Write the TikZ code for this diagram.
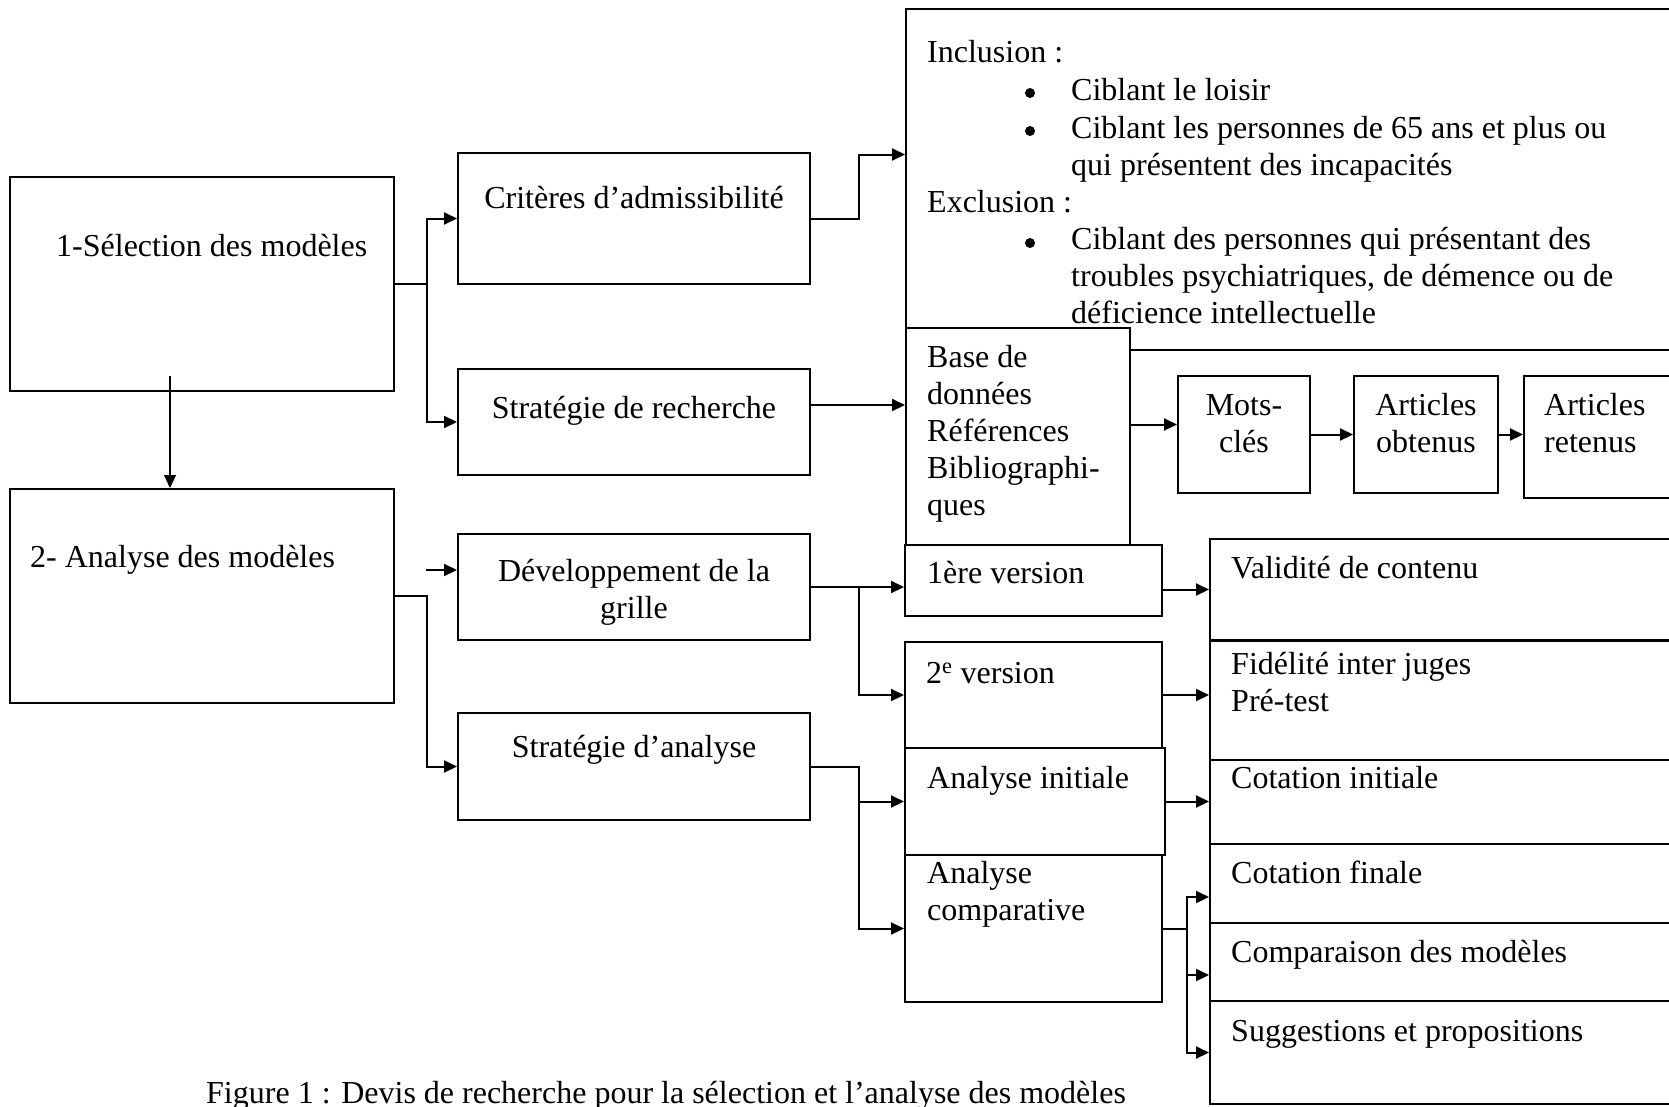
\documentclass[tikz,border=0pt]{standalone}
\usepackage{fontspec}
\setmainfont{Liberation Serif}
\usetikzlibrary{arrows.meta}

\tikzset{
  box/.style={draw, fill=white, line width=2pt, inner sep=0pt},
  dot/.style={circle, fill=black, inner sep=0pt, minimum size=10pt},
  arr/.style={line width=2pt, -{Triangle[length=13pt,width=12pt]}},
}

\begin{document}
\begin{tikzpicture}[x=1pt, y=-1pt, font=\fontsize{32}{37}\selectfont]

      \clip (0,0) rectangle (1669,1106);
      \fill[white] (0,0) rectangle (1669,1106);

      \begin{scope}[every node/.style={box}]
        \node[minimum width=384pt, minimum height=214pt] (sel)  at (202,284)    {};
        \node[minimum width=384pt, minimum height=214pt] (ana)  at (202,596)    {};
        \node[minimum width=352pt, minimum height=131pt] (crit) at (634,218.5)  {};
        \node[minimum width=352pt, minimum height=106pt] (rech) at (634,422)    {};
        \node[minimum width=352pt, minimum height=106pt] (dev)  at (634,587)    {};
        \node[minimum width=352pt, minimum height=107pt] (stra) at (634,766.5)  {};
        \node[minimum width=794pt, minimum height=341pt] (incl) at (1303,179.5) {};
        \node[minimum width=224pt, minimum height=217pt] (base) at (1018,436.5) {};
        \node[minimum width=132pt, minimum height=117pt] (mots) at (1244,434.5) {};
        \node[minimum width=144pt, minimum height=117pt] (obt)  at (1426,434.5) {};
        \node[minimum width=176pt, minimum height=122pt] (ret)  at (1612,437)   {};
        \node[minimum width=257pt, minimum height=71pt]  (v1)   at (1033.5,580.5) {};
        \node[minimum width=257pt, minimum height=106pt] (v2)   at (1033.5,695) {};
        \node[minimum width=260pt, minimum height=107pt] (ini)  at (1035,801.5) {};
        \node[minimum width=257pt, minimum height=147pt] (comp) at (1033.5,928.5) {};
        \node[minimum width=490pt, minimum height=101pt] (val)  at (1455,589.5) {};
        \node[minimum width=490pt, minimum height=119pt] (fid)  at (1455,700.5) {};
        \node[minimum width=490pt, minimum height=84pt]  (cini) at (1455,802)   {};
        \node[minimum width=490pt, minimum height=79pt]  (cfin) at (1455,883.5) {};
        \node[minimum width=490pt, minimum height=78pt]  (cmp)  at (1455,962)   {};
        \node[minimum width=490pt, minimum height=103pt] (sug)  at (1455,1052.5) {};
      \end{scope}

      % texts: a node with several lines sits on its last line
      \begin{scope}[every node/.style={inner sep=0pt, anchor=base west, align=left}]
        \node (selt)  at (56,256)  {1-Sélection des modèles};
        \node (anat)  at (30,567)  {2- Analyse des modèles};
        \node[anchor=base, align=center] (critt) at (634,208) {Critères d’admissibilité};
        \node[anchor=base, align=center] (recht) at (634,418) {Stratégie de recherche};
        \node[anchor=base, align=center] (devt)  at (634,618) {Développement de la\\grille};
        \node[anchor=base, align=center] (strat) at (634,757) {Stratégie d’analyse};

        \node (inclt) at (927,62)   {Inclusion :};
        \node (i1)    at (1071,100) {Ciblant le loisir};
        \node (i2)    at (1071,175) {Ciblant les personnes de 65 ans et plus ou\\qui présentent des incapacités};
        \node (exclt) at (927,212)  {Exclusion :};
        \node (e1)    at (1071,323) {Ciblant des personnes qui présentant des\\troubles psychiatriques, de démence ou de\\déficience intellectuelle};

        \node (baset) at (927,515)  {Base de\\données\\Références\\Bibliographi-\\ques};
        \node[anchor=base, align=center] (motst) at (1244,452) {Mots-\\clés};
        \node[anchor=base, align=center] (obtt)  at (1426,452) {Articles\\obtenus};
        \node (rett)  at (1544,452) {Articles\\retenus};

        \node (v1t)   at (927,583)  {1ère version};
        \node (v2t)   at (926,683)  {2\textsuperscript{e} version};
        \node (init)  at (927,788)  {Analyse initiale};
        \node (compt) at (927,920)  {Analyse\\comparative};

        \node (valt)  at (1231,578)  {Validité de contenu};
        \node (fidt)  at (1231,711)  {Fidélité inter juges\\Pré-test};
        \node (cinit) at (1231,788)  {Cotation initiale};
        \node (cfint) at (1231,883)  {Cotation finale};
        \node (cmpt)  at (1231,962)  {Comparaison des modèles};
        \node (sugt)  at (1231,1041) {Suggestions et propositions};

        \node (fig)   at (206,1103) {Figure 1 : Devis de recherche pour la sélection et l’analyse des modèles};
      \end{scope}

      \node[dot] (b1) at (1030,93)  {};
      \node[dot] (b2) at (1030,131) {};
      \node[dot] (b3) at (1030,243) {};

      % left part
      \coordinate (s1) at (170,376);
      \coordinate (s2) at (426,570);
      \draw[arr, line width=1.2pt] (s1) -- (s1 |- ana.north);
      \draw[arr] (sel.east) -- ++(32,0) |- (crit.west);
      \draw[arr] (sel.east) -- ++(32,0) |- (rech.west);
      \draw[arr] (s2) -- (s2 -| dev.west);
      \draw[arr] (ana.east) -- ++(32,0) |- (stra.west);

      % middle part
      \coordinate (r1) at ([yshift=17pt]rech.east);
      \draw[arr] (crit.east) -- ++(48,0) |- ([yshift=25pt]incl.west);
      \draw[arr] (r1) -- (r1 -| base.west);
      \draw[arr] (dev.east) -- (dev.east -| v1.west);
      \draw[arr] (dev.east) -- ++(48,0) |- (v2.west);
      \draw[arr] (stra.east) -- ++(48,0) |- (ini.west);
      \draw[arr] (stra.east) -- ++(48,0) |- (comp.west);

      % right part
      \coordinate (m1) at ([yshift=10pt]mots.west);
      \coordinate (cj) at ([xshift=24pt]comp.east);
      \draw[arr] (m1 -| base.east) -- (m1);
      \draw[arr] (mots.east) -- (obt.west);
      \draw[arr] (obt.east) -- (obt.east -| ret.west);
      \draw[arr] (val.west -| v1.east) -- (val.west);
      \draw[arr] (v2.east) -- (v2.east -| fid.west);
      \draw[arr] (ini.east) -- (ini.east -| cini.west);
      \draw[line width=2pt] (comp.east) -- (cj);
      \draw[arr] (cj) |- ([yshift=-13.5pt]cfin.west);
      \draw[arr] (cj) |- ([yshift=-13pt]cmp.west);
      \draw[arr] (cj) |- (sug.west);

    \end{tikzpicture}
\end{document}
